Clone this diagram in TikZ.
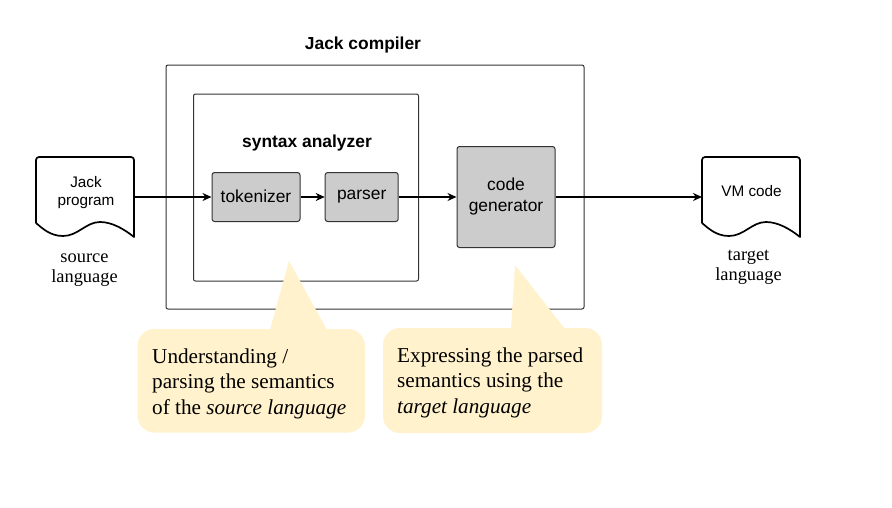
\documentclass[tikz,border=0pt]{standalone}
\usepackage{fontspec}
\setmainfont{Liberation Serif}
\newfontfamily\labelsans{Liberation Sans}
\usetikzlibrary{arrows.meta}
\definecolor{boxgray}{HTML}{CCCCCC}
\definecolor{calloutfill}{HTML}{FFF2CC}
\definecolor{edgegray}{HTML}{333333}
\tikzset{
  x=1pt,y=-1pt,
  frame/.style={draw=edgegray,line width=1pt,rounded corners=2pt,inner sep=0pt},
  stage/.style={draw=edgegray,line width=1pt,fill=boxgray,rounded corners=2.5pt,inner sep=0pt,align=center,font=\labelsans\fontsize{17.4}{21}\selectfont},
  docbody/.style={minimum width=98pt,minimum height=80pt,inner sep=0pt,outer sep=0pt},
  docline/.style={draw=black,line width=1.7pt,line join=round},
  doclabel/.style={inner sep=0pt,align=center,font=\labelsans\fontsize{15.3}{18.5}\selectfont},
  serifnote/.style={inner sep=0pt,align=center,font=\fontsize{18.4}{20}\selectfont},
  calloutbg/.style={fill=calloutfill,draw=none},
  callouttext/.style={inner sep=0pt,align=left,anchor=north west,font=\fontsize{21.2}{25.5}\selectfont},
  flow/.style={draw=black,line width=1.5pt,-{Stealth[length=9pt,width=8pt]}},
  heading/.style={inner sep=0pt,font=\labelsans\bfseries\fontsize{17.4}{20}\selectfont},
}
\newcommand{\docoutline}[1]{%
  \draw[docline] (#1.west |- 0,223) -- (#1.west |- 0,160)
    arc[start angle=180,end angle=90,radius=3pt] -- ([xshift=-3pt]#1.east |- 0,157)
    arc[start angle=90,end angle=0,radius=3pt] -- (#1.south east)
    .. controls ([xshift=-10pt,yshift=8pt]#1.south east) and ([xshift=-22pt,yshift=15pt]#1.south east) .. ([xshift=-34pt,yshift=15pt]#1.south east)
    .. controls ([xshift=-48pt,yshift=15pt]#1.south east) and ([xshift=-56pt,yshift=1pt]#1.south east) .. ([xshift=-71pt,yshift=1pt]#1.south east)
    .. controls ([xshift=-84pt,yshift=1pt]#1.south east) and ([xshift=-92pt,yshift=9pt]#1.south east) .. ([xshift=-98pt,yshift=14pt]#1.south east);}
\begin{document}
\begin{tikzpicture}
\useasboundingbox (0,0) rectangle (892,507);
\fill[white] (0,0) rectangle (892,507);
% containers
\node[frame,minimum width=418pt,minimum height=244pt] (compiler) at (375,187) {};
\node[frame,minimum width=225pt,minimum height=187pt] (analyzer) at (306,187.5) {};
\node[heading] (compilerlabel) at (363,45) {Jack compiler};
\node[heading] (analyzerlabel) at (307,143) {syntax analyzer};
% stages
\node[stage,minimum width=88pt,minimum height=49pt] (tokenizer) at (256,197) {\raisebox{1.5pt}{tokenizer}};
\node[stage,minimum width=73pt,minimum height=49pt] (parser) at (361.7,197) {\raisebox{1pt}{parser}};
\node[stage,minimum width=98pt,minimum height=101pt] (codegen) at (506,197) {\raisebox{1.5pt}{\begin{tabular}{@{}c@{}}code\\generator\end{tabular}}};
% documents
\node[docbody] (jack) at (85,197) {};
\node[docbody] (vm) at (751,197) {};
\docoutline{jack}
\docoutline{vm}
\node[doclabel] (jacklabel) at (86,192.5) {Jack\\program};
\node[doclabel] (vmlabel) at (751.5,191.5) {VM code};
\node[serifnote] (sourcelang) at (84.5,270) {source\\language};
\node[serifnote] (targetlang) at (748.5,267) {target\\language};
% connectors
\draw[flow] (jack.east) -- (tokenizer.west |- jack.east);
\draw[flow] (tokenizer.east) -- (parser.west);
\draw[flow] (parser.east) -- (codegen.west |- parser.east);
\draw[flow] (codegen.east |- vm.west) -- (vm.west);
% callouts
\fill[calloutbg] (270,330) -- (289,261) -- (327,330) -- cycle;
\fill[calloutbg,rounded corners=17pt] (137.5,329) rectangle (365,432.5);
\fill[calloutbg] (511,329) -- (515,265) -- (565,329) -- cycle;
\fill[calloutbg,rounded corners=17pt] (383,328) rectangle (602,433);
\node[callouttext] (leftnote) at (152,348.5) {Understanding /\\parsing the semantics\\of the \textit{source language}};
\node[callouttext] (rightnote) at (397,347.5) {Expressing the parsed\\semantics using the\\\textit{target language}};
\end{tikzpicture}
\end{document}
